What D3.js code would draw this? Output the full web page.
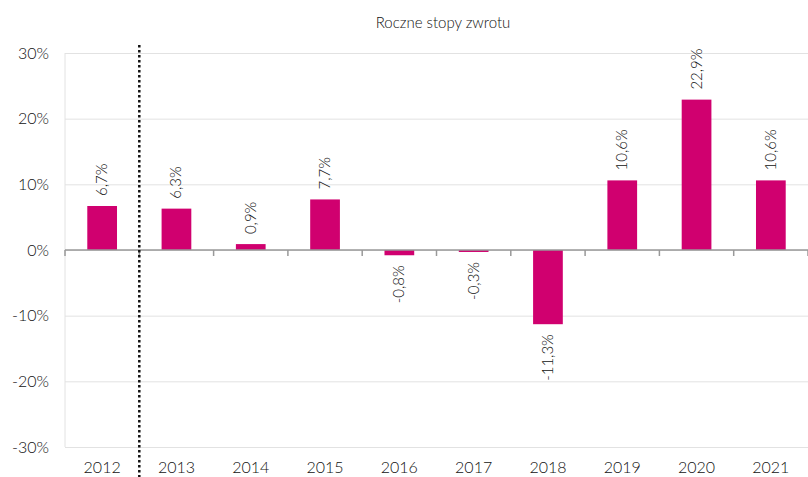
<!DOCTYPE html>
<html>
<head>
<meta charset="utf-8">
<script src="https://cdn.jsdelivr.net/npm/d3@7"></script>
<style>
  body { margin: 0; background: #fff; }
  text { font-family: Lato, "Open Sans", sans-serif; font-weight: 300; fill: #111; }
</style>
</head>
<body>
<div id="chart"></div>
<script>
(function () {
  // data
  const years = ["2012", "2013", "2014", "2015", "2016", "2017", "2018", "2019", "2020", "2021"];
  const returns = [6.7, 6.3, 0.9, 7.7, -0.8, -0.3, -11.3, 10.6, 22.9, 10.6];
  const yTicks = [-30, -20, -10, 0, 10, 20, 30];
  const title = "Roczne stopy zwrotu";

  const W = 808, H = 477;
  const margin = { top: 53, right: 0, bottom: 30, left: 65 };
  const width = W - margin.left - margin.right;
  const height = H - margin.top - margin.bottom;

  const svg = d3.select("#chart").append("svg")
    .attr("width", W).attr("height", H);
  const g = svg.append("g")
    .attr("transform", `translate(${margin.left},${margin.top})`);

  const x = d3.scaleBand().domain(years).range([0, width]).paddingInner(0.6).paddingOuter(0.3);
  const xb = d3.scaleBand().domain(years).range([0, width]);
  const y = d3.scaleLinear().domain([-30, 30]).range([height, 0]);

  const fmt = v => d3.format(".1f")(v).replace(".", ",").replace("−", "-") + "%";

  // gridlines
  g.append("g")
    .call(d3.axisLeft(y).tickValues(yTicks).tickSize(-width).tickFormat(""))
    .call(a => a.select(".domain").remove())
    .selectAll("line").attr("stroke", "#e2e2e2");

  // left axis line + labels
  g.append("line").attr("x1", 0).attr("x2", 0).attr("y1", 0).attr("y2", height)
    .attr("stroke", "#e2e2e2");
  g.append("g")
    .call(d3.axisLeft(y).tickValues(yTicks).tickSize(0).tickPadding(16).tickFormat(d => d + "%"))
    .call(a => a.select(".domain").remove())
    .selectAll("text").style("font-size", "16px").attr("fill", "#111");

  // bars
  g.selectAll("rect.bar").data(returns).join("rect")
    .attr("class", "bar")
    .attr("x", (d, i) => x(years[i]))
    .attr("width", x.bandwidth())
    .attr("y", d => y(Math.max(0, d)))
    .attr("height", d => Math.abs(y(d) - y(0)))
    .attr("fill", "#d0006f");

  // zero axis
  const zero = g.append("g").attr("transform", `translate(0,${y(0)})`);
  zero.append("line").attr("x1", 0).attr("x2", width).attr("stroke", "#999").attr("stroke-width", 1.5);
  zero.selectAll("line.tick").data(years.concat(["end"])).join("line")
    .attr("class", "tick")
    .attr("x1", (d, i) => i * xb.bandwidth()).attr("x2", (d, i) => i * xb.bandwidth())
    .attr("y1", 0).attr("y2", 6)
    .attr("stroke", "#999").attr("stroke-width", 1.5);

  // x labels
  g.selectAll("text.xl").data(years).join("text")
    .attr("class", "xl")
    .attr("x", d => xb(d) + xb.bandwidth() / 2)
    .attr("y", height + 26)
    .attr("text-anchor", "middle")
    .style("font-size", "16px")
    .text(d => d);

  // value labels (rotated)
  g.selectAll("text.vl").data(returns).join("text")
    .attr("class", "vl")
    .attr("transform", (d, i) => {
      const cx = x(years[i]) + x.bandwidth() / 2 + 5;
      const cy = d >= 0 ? y(d) - 10 : y(d) + 10;
      return `translate(${cx},${cy}) rotate(-90)`;
    })
    .attr("text-anchor", d => d >= 0 ? "start" : "end")
    .style("font-size", "15px")
    .text(d => fmt(d));

  // dotted separator
  g.append("line")
    .attr("x1", xb("2013")).attr("x2", xb("2013"))
    .attr("y1", -8).attr("y2", H - margin.top)
    .attr("stroke", "#111").attr("stroke-width", 2.5)
    .attr("stroke-dasharray", "2.5,2.5");

  // title
  svg.append("text")
    .attr("x", 443).attr("y", 28)
    .attr("text-anchor", "middle")
    .style("font-size", "15px")
    .text(title);
})();
</script>
</body>
</html>
